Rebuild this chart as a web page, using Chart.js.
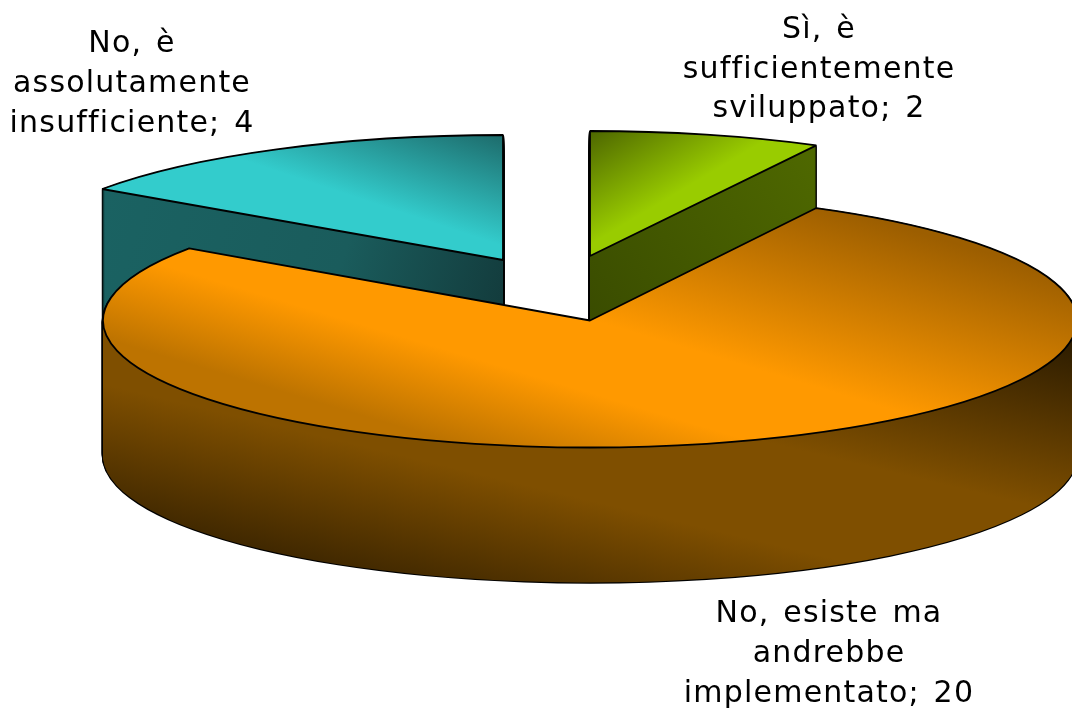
<!DOCTYPE html>
<html lang="it">
<head>
  <meta charset="UTF-8" />
  <title>Torta 3D</title>
  <style>
    html, body { margin: 0; padding: 0; background: #fff; overflow: hidden; }
    canvas { display: block; }
  </style>
</head>
<body>
  <canvas id="chart" width="1072" height="708"></canvas>

  <script src="https://cdn.jsdelivr.net/npm/chart.js"></script>
  <script>
    // data, in the order the pie runs clockwise from the top
    const categories = ["Sì, è sufficientemente sviluppato", "No, esiste ma andrebbe implementato", "No, è assolutamente insufficiente"];
    const values = [2, 20, 4];
    const labelLines = [
      ["Sì, è", "sufficientemente", "sviluppato; 2"],
      ["No, esiste ma", "andrebbe", "implementato; 20"],
      ["No, è", "assolutamente", "insufficiente; 4"]
    ];

    // look of the fake 3D pie
    const centre = { x: 590, y: 320.5 };
    const radiusX = 487, depth = 135;
    const drawOrder = [0, 2, 1];
    const sliceLook = [
      {
        shift: [0, -64.5],
        radiusY: 125,
        top: [590, 131, 640, 215, [[0, "#4d6600"], [1, "#99cc00"]]],
        wall: [820, 146, 590, 320, [[0, "#4f6900"], [1, "#3a4c00"]]]
      },
      {
        shift: [0, 0],
        radiusY: 127,
        top: [590, 134, 494, 455, [[0, "#9c5e00"], [0.53, "#ff9900"], [0.74, "#ff9900"], [1, "#bd7300"]]],
        wall: [590, 229, 497, 618, [[0, "#2e1d00"], [0.416, "#7f4f00"], [0.66, "#7f4f00"], [1, "#3a2400"]]]
      },
      {
        shift: [-87, -60.5],
        radiusY: 125,
        top: [503, 135, 470, 235, [[0, "#1d6b6b"], [1, "#33cccc"]]],
        wall: [103, 189, 503, 305, [[0, "#1a6262"], [0.6, "#1a5c5c"], [1, "#133c3d"]]]
      }
    ];
    const labelSpots = [
      { x: 819, baselines: [38, 78, 117] },
      { x: 829, baselines: [622, 662, 702] },
      { x: 132, baselines: [52, 92, 132] }
    ];

    function makeGradient(ctx, g) {
      const grad = ctx.createLinearGradient(g[0], g[1], g[2], g[3]);
      g[4].forEach(s => grad.addColorStop(s[0], s[1]));
      return grad;
    }

    // draws one arc squashed into an ellipse, library element does the path
    function drawSquashed(ctx, arc, x, y, radiusY, fill, width) {
      const saved = arc.options;
      arc.options = { ...saved, backgroundColor: fill, borderColor: "#000", borderWidth: width };
      ctx.save();
      ctx.translate(x, y);
      ctx.scale(radiusX / arc.outerRadius, radiusY / arc.outerRadius);
      ctx.translate(-arc.x, -arc.y);
      arc.draw(ctx);
      ctx.restore();
      arc.options = saved;
    }

    const pie3d = {
      id: "pie3d",
      beforeDatasetDraw(chart, args) {
        const ctx = chart.ctx;
        const arcs = args.meta.data;

        // gradients and line width stay in screen pixels, not squashed ones
        ["fill", "stroke"].forEach(name => {
          const orig = CanvasRenderingContext2D.prototype[name];
          ctx[name] = function () {
            ctx.save();
            ctx.setTransform(1, 0, 0, 1, 0, 0);
            orig.call(ctx);
            ctx.restore();
          };
        });

        drawOrder.forEach(i => {
          const look = sliceLook[i];
          const x = centre.x + look.shift[0];
          const y = centre.y + look.shift[1];
          for (let d = depth; d > 0; d--) {
            drawSquashed(ctx, arcs[i], x, y + d, look.radiusY, "#000", 2.4);
          }
          const wall = makeGradient(ctx, look.wall);
          for (let d = depth; d > 0; d--) {
            drawSquashed(ctx, arcs[i], x, y + d, look.radiusY, wall, 0);
          }
          drawSquashed(ctx, arcs[i], x, y, look.radiusY, makeGradient(ctx, look.top), 1.8);
        });

        delete ctx.fill;
        delete ctx.stroke;
        return false;
      },
      afterDraw(chart) {
        const ctx = chart.ctx;
        ctx.save();
        ctx.fillStyle = "#000";
        ctx.font = "30px 'DejaVu Sans', sans-serif";
        ctx.letterSpacing = "1.2px";
        ctx.wordSpacing = "3px";
        ctx.textAlign = "center";
        ctx.textBaseline = "alphabetic";
        labelLines.forEach((lines, i) => {
          lines.forEach((line, j) => {
            ctx.fillText(line, labelSpots[i].x, labelSpots[i].baselines[j]);
          });
        });
        ctx.restore();
      }
    };

    new Chart(document.getElementById("chart"), {
      type: "pie",
      data: {
        labels: categories,
        datasets: [{ data: values, borderWidth: 0 }]
      },
      options: {
        responsive: false,
        animation: false,
        plugins: { legend: { display: false }, tooltip: { enabled: false } }
      },
      plugins: [pie3d]
    });
  </script>
</body>
</html>
